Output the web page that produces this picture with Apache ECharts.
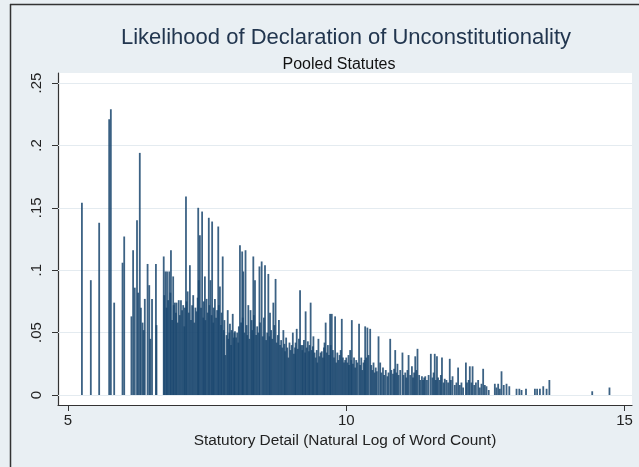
<!DOCTYPE html>
<html>
<head>
<meta charset="utf-8">
<script src="https://cdn.jsdelivr.net/npm/echarts@6/dist/echarts.min.js"></script>
<style>
  html, body { margin: 0; padding: 0; background: #ffffff; }
  #chart { width: 639px; height: 467px; }
</style>
</head>
<body>
<div id="chart"></div>
<script>
// Spike data: [natural log of word count, likelihood of declaration of unconstitutionality]
const spikesUnder7 = [
  [5.25, 0.154], [5.41, 0.092], [5.56, 0.138], [5.74, 0.221], [5.77, 0.229], [5.83, 0.074],
  [5.98, 0.106], [6.01, 0.127], [6.14, 0.063], [6.17, 0.116], [6.20, 0.086], [6.24, 0.140],
  [6.26, 0.082], [6.29, 0.194], [6.31, 0.070], [6.34, 0.058], [6.36, 0.052], [6.38, 0.077],
  [6.43, 0.105], [6.46, 0.088], [6.48, 0.045], [6.51, 0.077], [6.58, 0.105], [6.59, 0.056],
  [6.72, 0.111], [6.73, 0.080], [6.75, 0.099], [6.77, 0.070], [6.78, 0.099], [6.80, 0.076],
  [6.82, 0.099], [6.84, 0.082], [6.85, 0.116], [6.87, 0.060], [6.89, 0.095], [6.90, 0.072],
  [6.92, 0.074], [6.94, 0.066], [6.95, 0.074], [6.97, 0.058], [6.99, 0.076]
];
const spikes7to8 = [
  [7.01, 0.064], [7.03, 0.076], [7.05, 0.068], [7.07, 0.072], [7.09, 0.055], [7.10, 0.070],
  [7.12, 0.159], [7.13, 0.075], [7.15, 0.083], [7.17, 0.066], [7.19, 0.104], [7.21, 0.060],
  [7.23, 0.072], [7.25, 0.080], [7.27, 0.058], [7.29, 0.070], [7.31, 0.067], [7.33, 0.078],
  [7.34, 0.150], [7.35, 0.092], [7.37, 0.128], [7.39, 0.070], [7.41, 0.147], [7.43, 0.062],
  [7.44, 0.075], [7.46, 0.095], [7.47, 0.060], [7.49, 0.077], [7.51, 0.066], [7.53, 0.142],
  [7.54, 0.072], [7.56, 0.092], [7.58, 0.064], [7.59, 0.139], [7.61, 0.058], [7.62, 0.070],
  [7.64, 0.077], [7.66, 0.062], [7.68, 0.068], [7.70, 0.135], [7.71, 0.072], [7.73, 0.087],
  [7.75, 0.056], [7.76, 0.066], [7.78, 0.111], [7.80, 0.052], [7.81, 0.060], [7.83, 0.032],
  [7.85, 0.048], [7.87, 0.068], [7.88, 0.045], [7.90, 0.050], [7.91, 0.057], [7.93, 0.040],
  [7.94, 0.052], [7.96, 0.065], [7.98, 0.046], [7.99, 0.050]
];
const spikes8to9 = [
  [8.00, 0.051], [8.02, 0.046], [8.04, 0.050], [8.06, 0.042], [8.07, 0.055], [8.09, 0.120],
  [8.11, 0.058], [8.13, 0.115], [8.14, 0.062], [8.15, 0.099], [8.17, 0.050], [8.19, 0.116],
  [8.21, 0.056], [8.22, 0.048], [8.24, 0.072], [8.26, 0.045], [8.28, 0.068], [8.30, 0.060],
  [8.31, 0.052], [8.33, 0.111], [8.34, 0.064], [8.36, 0.092], [8.38, 0.048], [8.40, 0.055],
  [8.42, 0.050], [8.44, 0.103], [8.45, 0.058], [8.48, 0.107], [8.50, 0.047], [8.52, 0.062],
  [8.54, 0.104], [8.56, 0.044], [8.58, 0.050], [8.60, 0.097], [8.62, 0.047], [8.63, 0.066],
  [8.65, 0.052], [8.67, 0.045], [8.69, 0.074], [8.71, 0.056], [8.73, 0.093], [8.75, 0.042],
  [8.77, 0.048], [8.79, 0.060], [8.81, 0.040], [8.83, 0.044], [8.85, 0.038], [8.87, 0.052],
  [8.89, 0.041], [8.90, 0.035], [8.92, 0.046], [8.94, 0.038], [8.96, 0.030], [8.98, 0.042]
];
const spikes9to10 = [
  [9.00, 0.036], [9.02, 0.040], [9.04, 0.050], [9.06, 0.033], [9.08, 0.038], [9.09, 0.042],
  [9.11, 0.053], [9.13, 0.037], [9.15, 0.045], [9.17, 0.084], [9.19, 0.040], [9.21, 0.036],
  [9.22, 0.040], [9.24, 0.044], [9.26, 0.034], [9.27, 0.067], [9.29, 0.038], [9.31, 0.043],
  [9.33, 0.035], [9.34, 0.040], [9.36, 0.074], [9.38, 0.036], [9.40, 0.039], [9.41, 0.047],
  [9.43, 0.034], [9.45, 0.030], [9.47, 0.036], [9.48, 0.026], [9.50, 0.045], [9.52, 0.031],
  [9.54, 0.034], [9.56, 0.035], [9.58, 0.030], [9.60, 0.038], [9.61, 0.042], [9.63, 0.058],
  [9.65, 0.034], [9.67, 0.040], [9.69, 0.032], [9.71, 0.065], [9.72, 0.040], [9.74, 0.065],
  [9.76, 0.036], [9.78, 0.030], [9.80, 0.063], [9.82, 0.026], [9.84, 0.034], [9.86, 0.028],
  [9.88, 0.032], [9.90, 0.036], [9.92, 0.061], [9.94, 0.030], [9.96, 0.026], [9.98, 0.028]
];
const spikes10to11 = [
  [10.00, 0.030], [10.02, 0.026], [10.04, 0.032], [10.05, 0.024], [10.07, 0.036], [10.09, 0.028],
  [10.10, 0.060], [10.12, 0.025], [10.14, 0.030], [10.16, 0.022], [10.18, 0.028], [10.20, 0.026],
  [10.23, 0.057], [10.25, 0.024], [10.27, 0.030], [10.29, 0.020], [10.31, 0.026], [10.33, 0.028],
  [10.34, 0.055], [10.36, 0.030], [10.38, 0.054], [10.40, 0.032], [10.43, 0.053], [10.45, 0.024],
  [10.47, 0.020], [10.49, 0.026], [10.51, 0.018], [10.53, 0.022], [10.55, 0.019], [10.58, 0.047],
  [10.61, 0.026], [10.63, 0.018], [10.66, 0.022], [10.68, 0.016], [10.71, 0.020], [10.74, 0.015],
  [10.76, 0.018], [10.79, 0.045], [10.81, 0.020], [10.84, 0.017], [10.86, 0.021], [10.88, 0.036],
  [10.90, 0.018], [10.92, 0.025], [10.94, 0.016], [10.97, 0.020]
];
const spikesOver11 = [
  [11.01, 0.034], [11.03, 0.016], [11.06, 0.018], [11.08, 0.014], [11.10, 0.020], [11.12, 0.032],
  [11.15, 0.016], [11.18, 0.023], [11.20, 0.014], [11.22, 0.018], [11.24, 0.031], [11.26, 0.020],
  [11.28, 0.037], [11.31, 0.016], [11.33, 0.012], [11.36, 0.015], [11.38, 0.012], [11.40, 0.014],
  [11.42, 0.015], [11.45, 0.012], [11.48, 0.016], [11.52, 0.033], [11.55, 0.014], [11.57, 0.018],
  [11.59, 0.033], [11.61, 0.012], [11.63, 0.031], [11.65, 0.014], [11.68, 0.012], [11.70, 0.016],
  [11.72, 0.030], [11.75, 0.010], [11.77, 0.013], [11.80, 0.012], [11.83, 0.010], [11.86, 0.029],
  [11.88, 0.012], [11.91, 0.015], [11.95, 0.008], [11.98, 0.010], [12.01, 0.022], [12.04, 0.008],
  [12.07, 0.010], [12.10, 0.006], [12.15, 0.026], [12.17, 0.010], [12.20, 0.012], [12.22, 0.023],
  [12.25, 0.010], [12.27, 0.023], [12.30, 0.008], [12.33, 0.010], [12.37, 0.012], [12.40, 0.006],
  [12.43, 0.009], [12.46, 0.021], [12.49, 0.008], [12.52, 0.007], [12.56, 0.004], [12.67, 0.009],
  [12.70, 0.006], [12.73, 0.009], [12.76, 0.005], [12.79, 0.019], [12.83, 0.008], [12.88, 0.009],
  [12.93, 0.007], [13.06, 0.005], [13.11, 0.005], [13.15, 0.004], [13.23, 0.005], [13.39, 0.005],
  [13.43, 0.005], [13.48, 0.005], [13.54, 0.007], [13.60, 0.005], [13.65, 0.012], [14.42, 0.003],
  [14.73, 0.006]
];

const xTicks = [5, 10, 15];
const yTicks = [0, 0.05, 0.1, 0.15, 0.2, 0.25];
const yTickLabels = ['0', '.05', '.1', '.15', '.2', '.25'];

const FONT = "'Liberation Sans', Arial, Helvetica, sans-serif";

const spikes = [].concat(spikesUnder7, spikes7to8, spikes8to9, spikes9to10, spikes10to11, spikesOver11);

const chart = echarts.init(document.getElementById('chart'), null, { renderer: 'canvas' });

chart.setOption({
  animation: false,
  backgroundColor: '#e9eff3',
  title: [
    {
      text: 'Likelihood of Declaration of Unconstitutionality',
      left: 341, top: 22, textAlign: 'center',
      textStyle: { fontFamily: FONT, fontSize: 22, fontWeight: 'normal', color: '#22364f' }
    },
    {
      text: 'Pooled Statutes',
      left: 334, top: 52, textAlign: 'center',
      textStyle: { fontFamily: FONT, fontSize: 16, fontWeight: 'normal', color: '#111111' }
    }
  ],
  graphic: [
    { type: 'line', shape: { x1: 10.5, y1: 4, x2: 10.5, y2: 467 }, style: { stroke: '#333', lineWidth: 1.5 }, silent: true },
    { type: 'line', shape: { x1: 10, y1: 4.5, x2: 639, y2: 4.5 }, style: { stroke: '#333', lineWidth: 1.5 }, silent: true }
  ],
  grid: {
    left: 58, right: 7, top: 73, bottom: 62,
    show: true, backgroundColor: '#ffffff', borderWidth: 0
  },
  xAxis: {
    type: 'value',
    min: 4.8203, max: 15.1348,
    axisLine: { show: true, onZero: false, lineStyle: { color: '#333333', width: 1.2 } },
    axisTick: { show: true, customValues: xTicks, length: 6, lineStyle: { color: '#333333' } },
    axisLabel: {
      customValues: xTicks, margin: 8,
      fontFamily: FONT, fontSize: 15, color: '#222222'
    },
    splitLine: { show: false },
    name: 'Statutory Detail (Natural Log of Word Count)',
    nameLocation: 'middle', nameGap: 25,
    nameTextStyle: { fontFamily: FONT, fontSize: 15.4, color: '#222222' }
  },
  yAxis: {
    type: 'value',
    min: -0.00801, max: 0.25801,
    axisLine: { show: true, onZero: false, lineStyle: { color: '#333333', width: 1.2 } },
    axisTick: { show: true, customValues: yTicks, length: 6, lineStyle: { color: '#333333' } },
    axisLabel: {
      customValues: yTicks, rotate: 90, margin: 14,
      fontFamily: FONT, fontSize: 15, color: '#222222',
      formatter: v => yTickLabels[yTicks.indexOf(v)]
    },
    splitLine: { show: false }
  },
  series: [
    {
      type: 'bar',
      data: spikes,
      barWidth: 1.8,
      itemStyle: { color: '#1a476f', opacity: 0.85 },
      z: 3,
      markLine: {
        silent: true,
        symbol: 'none',
        z: 1,
        label: { show: false },
        lineStyle: { color: '#e4ebf0', type: 'solid', width: 1 },
        data: yTicks.map(v => ({ yAxis: v }))
      }
    }
  ]
});
</script>
</body>
</html>
